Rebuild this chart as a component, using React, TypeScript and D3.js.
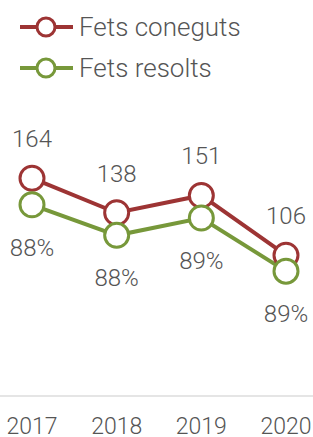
import { useRef, useEffect } from "react";
import * as d3 from "d3";

const years = ["2017", "2018", "2019", "2020"];
const fetsConeguts = [164, 138, 151, 106];
const fetsResolts = [144, 121, 134, 94];
const legendLabels = ["Fets coneguts", "Fets resolts"];

const RED = "#9d3434";
const GREEN = "#77983a";
const TEXT = "#555555";

const LineChart = () => {
  const chartRef = useRef<HTMLDivElement>(null);

  useEffect(() => {
    const chartElement = chartRef.current;
    const width = 313;
    const height = 437;
    const font = "Roboto, 'Noto Sans', sans-serif";

    const svg = d3
      .select(chartElement)
      .append("svg")
      .attr("width", width)
      .attr("height", height)
      .style("position", "absolute")
      .style("left", "0px")
      .style("top", "0px")
      .style("font-family", font)
      .style("font-weight", 300);

    const xScale = d3.scalePoint<string>().domain(years).range([32, 286]);
    const yScale = d3.scaleLinear().domain([0, 300]).range([396, -2.4]);

    // axis baseline
    svg
      .append("line")
      .attr("x1", 0)
      .attr("x2", width)
      .attr("y1", yScale(0))
      .attr("y2", yScale(0))
      .attr("stroke", "#dddddd")
      .attr("stroke-width", 1.5);

    svg
      .append("g")
      .selectAll("text")
      .data(years)
      .enter()
      .append("text")
      .attr("x", d => xScale(d) as number)
      .attr("y", 434)
      .attr("text-anchor", "middle")
      .attr("font-size", 23)
      .attr("fill", TEXT)
      .text(d => d);

    const line = d3
      .line<number>()
      .x((_d, i) => xScale(years[i]) as number)
      .y(d => yScale(d));

    const series = [
      { values: fetsConeguts, color: RED },
      { values: fetsResolts, color: GREEN },
    ];

    series.forEach(s => {
      svg
        .append("path")
        .datum(s.values)
        .attr("d", line)
        .attr("fill", "none")
        .attr("stroke", s.color)
        .attr("stroke-width", 4);
    });

    series.forEach(s => {
      svg
        .append("g")
        .selectAll("circle")
        .data(s.values)
        .enter()
        .append("circle")
        .attr("cx", (_d, i) => xScale(years[i]) as number)
        .attr("cy", d => yScale(d))
        .attr("r", 12)
        .attr("fill", "#ffffff")
        .attr("stroke", s.color)
        .attr("stroke-width", 3);
    });

    // value labels above
    svg
      .append("g")
      .selectAll("text")
      .data(fetsConeguts)
      .enter()
      .append("text")
      .attr("x", (_d, i) => xScale(years[i]) as number)
      .attr("y", d => yScale(d) - 31)
      .attr("text-anchor", "middle")
      .attr("font-size", 24)
      .attr("fill", TEXT)
      .text(d => d);

    // percentage labels below
    svg
      .append("g")
      .selectAll("text")
      .data(fetsResolts)
      .enter()
      .append("text")
      .attr("x", (_d, i) => xScale(years[i]) as number)
      .attr("y", d => yScale(d) + 51)
      .attr("text-anchor", "middle")
      .attr("font-size", 24)
      .attr("fill", TEXT)
      .text((d, i) => `${Math.round((d / fetsConeguts[i]) * 100)}%`);

    // legend
    const legend = svg
      .append("g")
      .selectAll("g")
      .data(legendLabels)
      .enter()
      .append("g")
      .attr("transform", (_d, i) => `translate(0, ${27 + i * 41})`);

    legend
      .append("line")
      .attr("x1", 20)
      .attr("x2", 73)
      .attr("stroke", (_d, i) => series[i].color)
      .attr("stroke-width", 4);

    legend
      .append("circle")
      .attr("cx", 46)
      .attr("r", 9)
      .attr("fill", "#ffffff")
      .attr("stroke", (_d, i) => series[i].color)
      .attr("stroke-width", 3);

    legend
      .append("text")
      .attr("x", 79)
      .attr("y", 9)
      .attr("font-size", 26)
      .attr("fill", TEXT)
      .text(d => d);

    return () => {
      d3.select(chartElement).select("svg").remove();
    };
  }, []);

  return <div ref={chartRef}></div>;
};

export default function App() {
  return <LineChart />;
}
